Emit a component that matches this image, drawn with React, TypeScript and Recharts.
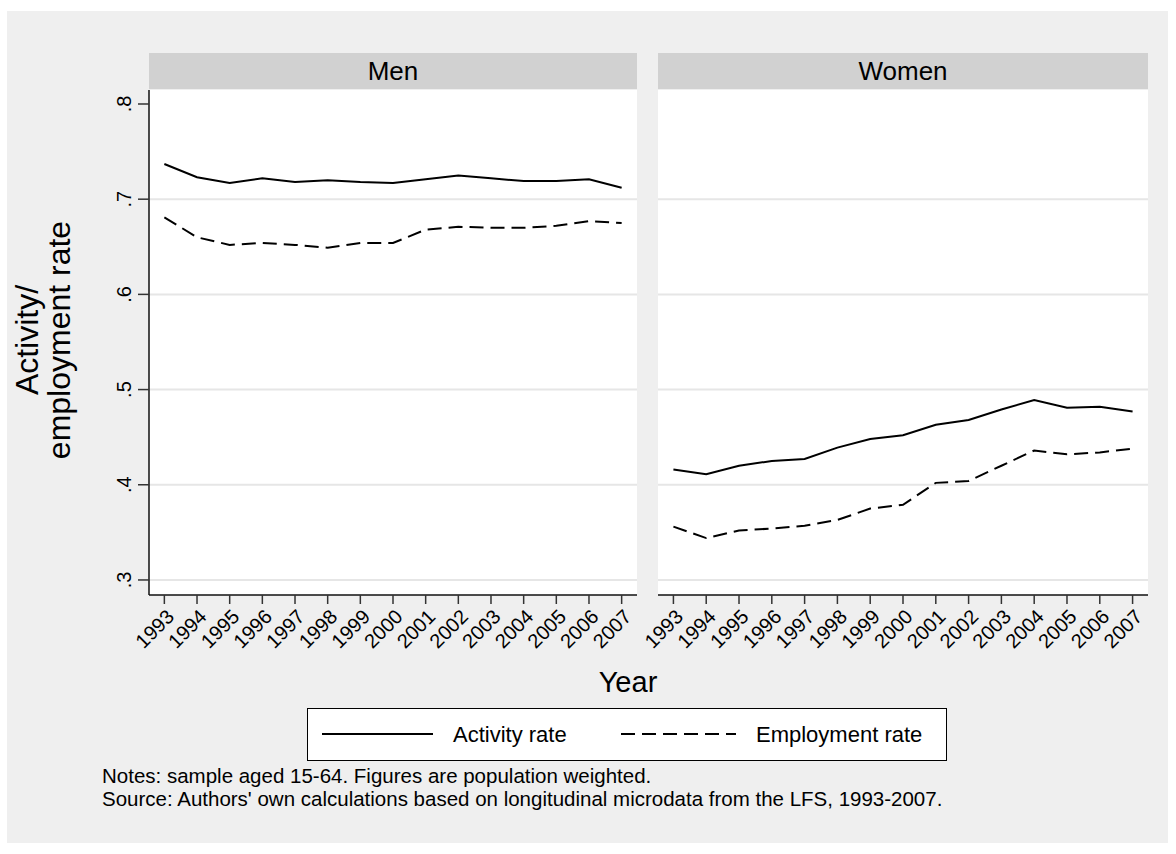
import React from 'react';
import { LineChart, Line, XAxis, YAxis, CartesianGrid } from 'recharts';

const years = [1993, 1994, 1995, 1996, 1997, 1998, 1999, 2000, 2001, 2002, 2003, 2004, 2005, 2006, 2007];
const menActivity = [0.737, 0.723, 0.717, 0.722, 0.718, 0.720, 0.718, 0.717, 0.721, 0.725, 0.722, 0.719, 0.719, 0.721, 0.712];
const menEmployment = [0.681, 0.660, 0.652, 0.654, 0.652, 0.649, 0.654, 0.654, 0.668, 0.671, 0.670, 0.670, 0.672, 0.677, 0.675];
const womenActivity = [0.416, 0.411, 0.420, 0.425, 0.427, 0.439, 0.448, 0.452, 0.463, 0.468, 0.479, 0.489, 0.481, 0.482, 0.477];
const womenEmployment = [0.356, 0.344, 0.352, 0.354, 0.357, 0.363, 0.375, 0.379, 0.402, 0.404, 0.420, 0.436, 0.432, 0.434, 0.438];
const yTicks = [0.3, 0.4, 0.5, 0.6, 0.7, 0.8];
const gridValues = [0.3, 0.4, 0.5, 0.6, 0.7];
const panelTitles = ['Men', 'Women'];
const seriesNames = ['Activity rate', 'Employment rate'];
const yTitle = ['Activity/', 'employment rate'];
const xTitle = 'Year';
const notes = [
  'Notes: sample aged 15-64. Figures are population weighted.',
  "Source: Authors' own calculations based on longitudinal microdata from the LFS, 1993-2007.",
];

const yDomain: [number, number] = [0.2842, 0.8147];
const xDomain: [number, number] = [1992.53, 2007.47];

const FONT = '"Liberation Sans", Arial, Helvetica, sans-serif';

const makeData = (act: number[], emp: number[]) =>
  years.map((y, i) => ({ year: y, activity: act[i], employment: emp[i] }));

const menData = makeData(menActivity, menEmployment);
const womenData = makeData(womenActivity, womenEmployment);

const fmtY = (v: number) => v.toFixed(1).replace(/^0/, '');

const XTick = (props: any) => {
  const { x, y, payload } = props;
  const ax = x + 6;
  const ay = y + 9;
  return (
    <text
      x={ax}
      y={ay}
      transform={`rotate(-45, ${ax}, ${ay})`}
      textAnchor="end"
      dominantBaseline="central"
      fontSize={20}
      fontFamily={FONT}
      fill="#000"
    >
      {payload.value}
    </text>
  );
};

const YTick = (props: any) => {
  const { x, y, payload } = props;
  const ax = x - 7;
  return (
    <text
      x={ax}
      y={y}
      transform={`rotate(-90, ${ax}, ${y})`}
      textAnchor="middle"
      fontSize={20}
      fontFamily={FONT}
      fill="#000"
    >
      {fmtY(payload.value)}
    </text>
  );
};

const Panel = ({ data, showY, box, margin }: any) => (
  <div style={{ position: 'absolute', left: box.left, top: 0, width: box.width, height: box.height }}>
    <LineChart
      width={box.width}
      height={box.height}
      data={data}
      margin={margin}
      style={{ overflow: 'visible' }}
    >
      <CartesianGrid
        fill="#ffffff"
        vertical={false}
        horizontalValues={gridValues}
        stroke="#e6e6e6"
        strokeWidth={2}
      />
      <XAxis
        dataKey="year"
        type="number"
        domain={xDomain}
        ticks={years}
        interval={0}
        allowDataOverflow
        height={60}
        tickSize={9}
        tickMargin={0}
        axisLine={{ stroke: '#111', strokeWidth: 1.5 }}
        tickLine={{ stroke: '#333', strokeWidth: 1.5 }}
        tick={<XTick />}
      />
      <YAxis
        type="number"
        domain={yDomain}
        ticks={yTicks}
        interval={0}
        allowDataOverflow
        hide={!showY}
        width={40}
        tickSize={11}
        tickMargin={0}
        axisLine={{ stroke: '#111', strokeWidth: 1.5 }}
        tickLine={{ stroke: '#333', strokeWidth: 1.5 }}
        tick={<YTick />}
      />
      <Line
        type="linear"
        dataKey="activity"
        name={seriesNames[0]}
        stroke="#000"
        strokeWidth={2}
        dot={false}
        isAnimationActive={false}
      />
      <Line
        type="linear"
        dataKey="employment"
        name={seriesNames[1]}
        stroke="#000"
        strokeWidth={2}
        strokeDasharray="14 7"
        dot={false}
        isAnimationActive={false}
      />
    </LineChart>
  </div>
);

const Header = ({ left, width, text }: any) => (
  <div
    style={{
      position: 'absolute',
      left,
      top: 53,
      width,
      height: 36,
      background: '#d1d1d1',
      fontFamily: FONT,
      fontSize: 26,
      lineHeight: '36px',
      textAlign: 'center',
      color: '#000',
    }}
  >
    {text}
  </div>
);

export default function App() {
  return (
    <div style={{ position: 'absolute', left: 0, top: 0, width: 1176, height: 854, background: '#fff', overflow: 'hidden' }}>
      <div style={{ position: 'absolute', left: 7, top: 11, width: 1161, height: 832, background: '#efefef' }} />
      <Header left={149} width={488} text={panelTitles[0]} />
      <Header left={658} width={490} text={panelTitles[1]} />
      <Panel
        data={menData}
        showY
        box={{ left: 0, width: 650, height: 660 }}
        margin={{ top: 90, left: 109, right: 13, bottom: 5 }}
      />
      <Panel
        data={womenData}
        showY={false}
        box={{ left: 600, width: 576, height: 660 }}
        margin={{ top: 90, left: 58, right: 28, bottom: 5 }}
      />
      <svg width={1176} height={854} style={{ position: 'absolute', left: 0, top: 0, pointerEvents: 'none' }}>
        <text
          transform="translate(38, 340) rotate(-90)"
          textAnchor="middle"
          fontSize={32}
          fontFamily={FONT}
          fill="#000"
        >
          {yTitle[0]}
        </text>
        <text
          transform="translate(70, 340) rotate(-90)"
          textAnchor="middle"
          fontSize={32}
          fontFamily={FONT}
          fill="#000"
        >
          {yTitle[1]}
        </text>
        <text x={628} y={692} textAnchor="middle" fontSize={29} fontFamily={FONT} fill="#000">
          {xTitle}
        </text>
      </svg>
      <div
        style={{
          position: 'absolute',
          left: 307,
          top: 708,
          width: 640,
          height: 53,
          boxSizing: 'border-box',
          border: '1.5px solid #000',
          background: '#fff',
        }}
      >
        <svg width={637} height={50} style={{ position: 'absolute', left: 0, top: 0 }}>
          <line x1={14} x2={125} y1={25} y2={25} stroke="#000" strokeWidth={2} />
          <text x={145} y={25} dominantBaseline="central" fontSize={22} fontFamily={FONT} fill="#000">
            {seriesNames[0]}
          </text>
          <line x1={313} x2={428} y1={25} y2={25} stroke="#000" strokeWidth={2} strokeDasharray="14 7" />
          <text x={448} y={25} dominantBaseline="central" fontSize={22} fontFamily={FONT} fill="#000">
            {seriesNames[1]}
          </text>
        </svg>
      </div>
      <div
        style={{
          position: 'absolute',
          left: 102,
          top: 764,
          fontFamily: FONT,
          fontSize: 20.5,
          lineHeight: '23px',
          color: '#000',
          whiteSpace: 'pre',
        }}
      >
        <div style={{ height: 23 }}>{notes[0]}</div>
        <div style={{ height: 23 }}>{notes[1]}</div>
      </div>
    </div>
  );
}
